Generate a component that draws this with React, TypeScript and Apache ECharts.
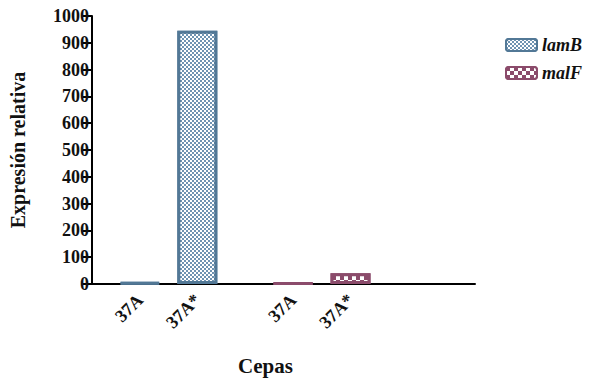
import React, { useEffect, useRef } from "react";
import * as echarts from "echarts";

const strains = ["37A", "37A*", "37A", "37A*"];
const lamB = [5, 945];
const malF = [3, 40];
const yTicks = [0, 100, 200, 300, 400, 500, 600, 700, 800, 900, 1000];
// slot layout of the x axis (positions of the four strains among 20 slots)
const slotIndex = [2, 5, 10, 13];
const slotCount = 20;

const serif = "Liberation Serif, Times New Roman, serif";

export default function App() {
  const ref = useRef<HTMLDivElement>(null);
  useEffect(() => {
    document.body.style.margin = "0";
    if (!ref.current) return;
    const chart = echarts.init(ref.current, undefined, { renderer: "svg" });
    const xData: string[] = new Array(slotCount).fill("");
    slotIndex.forEach((s, i) => (xData[s] = strains[i]));
    const labelled = new Set(slotIndex);
    const lamData: (number | null)[] = new Array(slotCount).fill(null);
    lamData[slotIndex[0]] = lamB[0];
    lamData[slotIndex[1]] = lamB[1];
    const malData: (number | null)[] = new Array(slotCount).fill(null);
    malData[slotIndex[2]] = malF[0];
    malData[slotIndex[3]] = malF[1];

    chart.setOption({
      animation: false,
      aria: { enabled: true, decal: { show: true } },
      grid: { left: 92, right: 119, top: 16, bottom: 95, containLabel: false },
      legend: {
        orient: "vertical",
        left: 500,
        top: 31,
        itemWidth: 31,
        itemHeight: 12,
        itemGap: 10,
        icon: "roundRect",
        textStyle: {
          fontFamily: serif,
          fontWeight: "bold",
          fontStyle: "italic",
          fontSize: 18,
          color: "#111",
        },
        data: ["lamB", "malF"],
      },
      xAxis: {
        type: "category",
        data: xData,
        boundaryGap: true,
        axisLine: { lineStyle: { color: "#000", width: 2 } },
        axisTick: {
          alignWithLabel: true,
          length: 8,
          lineStyle: { color: "#000", width: 2 },
          interval: (i: number) => labelled.has(i),
        },
        axisLabel: {
          interval: (i: number) => labelled.has(i),
          rotate: 45,
          margin: 13,
          fontFamily: serif,
          fontWeight: "bold",
          fontSize: 18,
          color: "#111",
        },
      },
      yAxis: {
        type: "value",
        min: 0,
        max: 1000,
        interval: 100,
        name: "Expresión relativa",
        nameLocation: "middle",
        nameGap: 64,
        nameTextStyle: {
          fontFamily: serif,
          fontWeight: "bold",
          fontSize: 20,
          color: "#111",
        },
        splitLine: { show: false },
        axisLine: { show: true, lineStyle: { color: "#000", width: 2 } },
        axisTick: { show: true, length: 9, lineStyle: { color: "#000", width: 2 } },
        axisLabel: {
          margin: 3,
          fontFamily: serif,
          fontWeight: "bold",
          fontSize: 18,
          color: "#111",
          formatter: (v: number) => (yTicks.includes(v) ? String(v) : ""),
        },
      },
      graphic: [
        {
          type: "text",
          left: 238,
          top: 355,
          style: {
            text: "Cepas",
            fontFamily: serif,
            fontWeight: "bold",
            fontSize: 21,
            fill: "#111",
          },
        },
      ],
      series: [
        {
          name: "lamB",
          type: "bar",
          data: lamData,
          barWidth: 40,
          barGap: "-100%",
          itemStyle: {
            color: "#6f93b2",
            borderColor: "#527896",
            borderWidth: 3,
            decal: {
              symbol: "rect",
              symbolSize: 1,
              dashArrayX: [
                [2, 2],
                [0, 2, 2, 0],
              ],
              dashArrayY: [2, 0],
              color: "#ffffff",
              rotation: 0,
            },
          },
        },
        {
          name: "malF",
          type: "bar",
          data: malData,
          barWidth: 40,
          barGap: "-100%",
          itemStyle: {
            color: "#8b4b6b",
            borderColor: "#8b4b6b",
            borderWidth: 3,
            decal: {
              symbol: "rect",
              symbolSize: 1,
              dashArrayX: [
                [4, 4],
                [0, 4, 4, 0],
              ],
              dashArrayY: [4, 0],
              color: "#ffffff",
              rotation: 0,
            },
          },
        },
      ],
    });
    return () => chart.dispose();
  }, []);
  return <div ref={ref} style={{ width: 594, height: 379 }} />;
}
